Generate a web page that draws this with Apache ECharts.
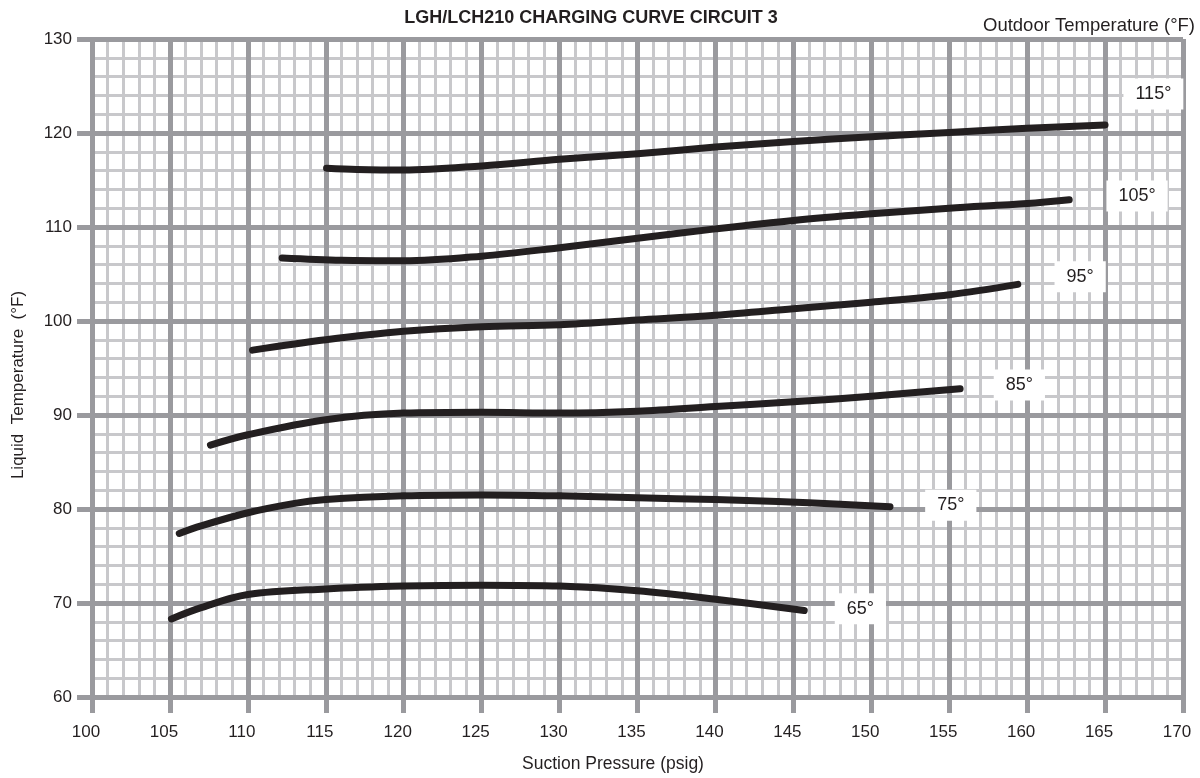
<!DOCTYPE html>
<html>
<head>
<meta charset="utf-8">
<script src="https://cdn.jsdelivr.net/npm/echarts@6/dist/echarts.min.js"></script>
<style>
html,body{margin:0;padding:0;background:#fff;}
#chart{width:1200px;height:778px;}
</style>
</head>
<body>
<div id="chart"></div>
<script>
// Curves: [suction pressure (psig), liquid temperature (°F)]
const curve65 = [[105.1,68.3],[107,69.5],[110,70.9],[115,71.5],[120,71.8],[125,71.9],[130,71.8],[135,71.3],[140,70.4],[145.7,69.2]];
const curve75 = [[105.6,77.4],[107,78.2],[110,79.6],[113,80.6],[115,81.0],[120,81.4],[125,81.5],[130,81.4],[135,81.2],[140,81.0],[144,80.8],[148,80.5],[151.2,80.25]];
const curve85 = [[107.6,86.8],[110,87.9],[115,89.5],[120,90.2],[125,90.3],[130,90.2],[135,90.4],[140,90.9],[145,91.4],[150,92.0],[155.7,92.8]];
const curve95 = [[110.3,96.9],[115,98.0],[120,98.9],[125,99.4],[130,99.6],[135,100.1],[140,100.6],[145,101.3],[150,102.0],[155,102.8],[159.4,103.9]];
const curve105 = [[112.2,106.7],[116,106.45],[120,106.4],[125,106.9],[130,107.8],[135,108.8],[140,109.8],[145,110.7],[150,111.4],[155,112.0],[160,112.5],[162.7,112.9]];
const curve115 = [[115.05,116.25],[117,116.12],[120,116.06],[125,116.5],[130,117.2],[135,117.8],[140,118.5],[145,119.1],[150,119.6],[155,120.05],[160,120.5],[165,120.85]];

const curveNames = ['65°','75°','85°','95°','105°','115°'];
const curveLabelPos = [[149.3,69.4],[155.1,80.4],[159.5,93.2],[163.4,104.7],[167.05,113.3],[168.1,124.15]];

const xTicks = [100,105,110,115,120,125,130,135,140,145,150,155,160,165,170];
const yTicks = [60,70,80,90,100,110,120,130];

const curves = [curve65, curve75, curve85, curve95, curve105, curve115];

const MAJOR = '#9a9a9e';
const MINOR = '#c8c8cb';
const INK = '#231f20';
const FONT = '"Liberation Sans", Arial, sans-serif';

const chart = echarts.init(document.getElementById('chart'));

const series = curves.map((c, i) => ({
  type: 'line',
  name: curveNames[i],
  xAxisIndex: 1, yAxisIndex: 1,
  data: c,
  smooth: 0.35,
  symbol: 'none',
  lineStyle: {color: INK, width: 7, cap: 'round', join: 'round'},
  z: 3,
  silent: true
}));

series.push({
  type: 'scatter',
  xAxisIndex: 1, yAxisIndex: 1,
  symbolSize: 0,
  itemStyle: {color: '#ffffff', opacity: 1},
  z: 4,
  silent: true,
  emphasis: {disabled: true},
  data: curveLabelPos.map((p, i) => ({name: curveNames[i], value: p})),
  label: {
    show: true, position: 'inside', formatter: '{b}', opacity: 1,
    backgroundColor: '#ffffff', padding: [7, 12, 6, 12],
    fontFamily: FONT, fontSize: 18, color: INK
  }
});

chart.setOption({
  animation: false,
  backgroundColor: '#fff',
  grid: {left: 92, right: 17, top: 39, bottom: 81},
  xAxis: [
    {type: 'value', min: 100, max: 170, interval: 1, position: 'bottom', z: 0,
     axisLine: {show: false}, axisTick: {show: false}, axisLabel: {show: false},
     splitLine: {show: true, lineStyle: {color: MINOR, width: 3}}},
    {type: 'value', min: 100, max: 170, interval: 5, position: 'bottom', z: 1,
     axisLine: {show: false},
     axisTick: {show: true, length: 16, lineStyle: {color: MAJOR, width: 5}},
     axisLabel: {show: true, margin: 27, fontFamily: FONT, fontSize: 17, color: INK,
       padding: [0, 12, 0, 0],
       formatter: v => xTicks.indexOf(v) >= 0 ? String(v) : ''},
     splitLine: {show: true, lineStyle: {color: MAJOR, width: 5}}}
  ],
  yAxis: [
    {type: 'value', min: 60, max: 130, interval: 2, position: 'left', z: 0,
     axisLine: {show: false}, axisTick: {show: false}, axisLabel: {show: false},
     splitLine: {show: true, lineStyle: {color: MINOR, width: 3}}},
    {type: 'value', min: 60, max: 130, interval: 10, position: 'left', z: 1,
     axisLine: {show: false},
     axisTick: {show: true, length: 15, lineStyle: {color: MAJOR, width: 5}},
     axisLabel: {show: true, margin: 20, fontFamily: FONT, fontSize: 17, color: INK,
       formatter: v => yTicks.indexOf(v) >= 0 ? String(v) : ''},
     splitLine: {show: true, lineStyle: {color: MAJOR, width: 5}}}
  ],
  graphic: [
    {type: 'text', x: 591, y: 18, z: 10,
     style: {text: 'LGH/LCH210 CHARGING CURVE CIRCUIT 3', font: 'bold 18px ' + FONT, fill: INK,
       align: 'center', verticalAlign: 'middle'}},
    {type: 'text', x: 1195, y: 26, z: 10,
     style: {text: 'Outdoor Temperature (°F)', font: '18.5px ' + FONT, fill: INK,
       align: 'right', verticalAlign: 'middle'}},
    {type: 'text', x: 613, y: 764, z: 10,
     style: {text: 'Suction Pressure (psig)', font: '17.5px ' + FONT, fill: INK,
       align: 'center', verticalAlign: 'middle'}},
    {type: 'text', x: 18, y: 385, rotation: Math.PI / 2, z: 10,
     style: {text: 'Liquid  Temperature  (°F)', font: '17px ' + FONT, fill: INK,
       align: 'center', verticalAlign: 'middle'}}
  ],
  series: series
});
</script>
</body>
</html>
